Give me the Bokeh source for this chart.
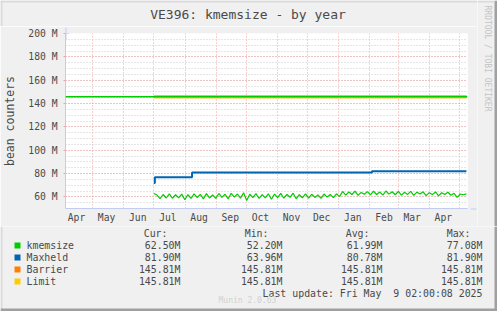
import pandas as pd
from bokeh.plotting import figure
from bokeh.layouts import column, row
from bokeh.models import FixedTicker, Range1d, Arrow, NormalHead, Span
from bokeh.core.properties import value
from bokeh.embed import file_html
from bokeh.resources import INLINE

FONT = "DejaVu Sans Mono"
TXT = "#4a4a4a"
AXC = "#c3cbf3"
BG = "#f0f0f0"
DARK = "#a0a0a0"
LIGHT = "#dadada"

title_text = "VE396: kmemsize - by year"
y_label = "bean counters"

x_start = "2024-04-04 02:00"
x_end = "2025-05-09 02:00"

month_labels = ["Apr", "May", "Jun", "Jul", "Aug", "Sep", "Oct", "Nov", "Dec", "Jan", "Feb", "Mar", "Apr"]
month_label_dates = ["2024-04-15", "2024-05-15", "2024-06-15", "2024-07-15", "2024-08-15", "2024-09-15",
                     "2024-10-15", "2024-11-15", "2024-12-15", "2025-01-15", "2025-02-15", "2025-03-15",
                     "2025-04-15"]
month_grid_dates = ["2024-05-01", "2024-06-01", "2024-07-01", "2024-08-01", "2024-09-01", "2024-10-01",
                    "2024-11-01", "2024-12-01", "2025-01-01", "2025-02-01", "2025-03-01", "2025-04-01",
                    "2025-05-01"]

y_ticks = [60, 80, 100, 120, 140, 160, 180, 200]
y_tick_labels = ["60 M", "80 M", "100 M", "120 M", "140 M", "160 M", "180 M", "200 M"]
y_minor_ticks = [50, 55, 60, 65, 70, 75, 80, 85, 90, 95, 100, 105, 110, 115, 120, 125, 130, 135, 140,
                 145, 150, 155, 160, 165, 170, 175, 180, 185, 190, 195, 200]

# kmemsize (M), sampled evenly from start to end
kmemsize_start = "2024-07-01"
kmemsize_end = "2025-05-08"
kmemsize_values = [
    62.8, 61.5, 58.5, 62.0, 59.0, 62.5, 58.8, 61.8, 59.2, 62.3,
    57.5, 61.9, 58.6, 62.6, 59.4, 62.1, 58.3, 62.7, 59.0, 61.6,
    58.7, 62.9, 59.5, 62.2, 58.2, 63.0, 59.8, 62.4, 58.9, 63.5,
    56.8, 62.2, 59.3, 62.8, 58.6, 61.9, 59.1, 62.6, 57.9, 62.3,
    59.4, 62.9, 58.8, 62.0, 59.6, 63.1, 58.4, 61.8, 59.2, 62.5,
    58.9, 62.2, 59.5, 61.7, 58.6, 62.4, 59.8, 62.0, 59.3, 62.6,
    60.2, 64.6, 61.5, 64.2, 62.0, 64.9, 61.3, 63.8, 62.2, 64.5,
    61.6, 64.8, 62.0, 64.1, 61.4, 65.0, 62.3, 64.4, 61.8,
    64.6, 61.5, 63.9, 62.1, 64.7, 61.2, 64.0, 62.4, 64.3, 61.0,
    63.6, 61.9, 64.2, 60.8, 63.5, 62.0, 63.9, 61.4, 63.0, 59.6,
    62.4, 61.8, 62.5,
]

maxheld_dates = ["2024-07-01", "2024-07-02", "2024-08-08", "2025-02-03", "2025-05-08"]
maxheld_values = [71.8, 76.8, 80.9, 81.9, 81.9]

limit_dates = ["2024-07-01", "2025-05-08"]
barrier_values = [145.81, 145.81]
limit_values = [145.81, 145.81]
threshold_value = 145.81

legend_names = ["kmemsize", "Maxheld", "Barrier", "Limit"]
legend_colors = ["#00cc00", "#0066b3", "#ff8000", "#ffcc00"]
legend_headers = ["Cur:", "Min:", "Avg:", "Max:"]
cur_values = ["62.50M", "81.90M", "145.81M", "145.81M"]
min_values = ["52.20M", "63.96M", "145.81M", "145.81M"]
avg_values = ["61.99M", "80.78M", "145.81M", "145.81M"]
max_values = ["77.08M", "81.90M", "145.81M", "145.81M"]
last_update = "Last update: Fri May\u00a0 9 02:00:08 2025"
munin_version = "Munin 2.0.63"
watermark = "RRDTOOL / TOBI OETIKER"

EPOCH = pd.Timestamp("1970-01-01")

# ---- layout geometry (canvas pixels) ----
W, H = 497, 311
TITLE_H = 26           # title strip height
TOP_H = 226            # bottom edge of the chart area
P_W = 477              # width of chart figure; the rest is the watermark strip
FL, FR, FT, FB = 65, 467, 33, 208   # chart frame edges (canvas px)


def days(s):
    return (pd.Timestamp(s) - EPOCH) / pd.Timedelta(days=1)


def blank_fig(w, h):
    f = figure(width=w, height=h, output_backend="svg", toolbar_location=None,
               x_range=Range1d(0, w), y_range=Range1d(h, 0), min_border=0,
               x_axis_location=None, y_axis_location=None)
    f.grid.visible = False
    f.outline_line_color = None
    f.background_fill_color = BG
    f.border_fill_color = BG
    f.frame_align = False
    return f


k_dates = pd.date_range(kmemsize_start, kmemsize_end, periods=len(kmemsize_values))
k_x = [(d - EPOCH) / pd.Timedelta(days=1) for d in k_dates]

# title strip
t = blank_fig(P_W, TITLE_H)
t.text(x=[247.5], y=[13.5], text=[title_text], text_font=value(FONT), text_font_size="13px",
       text_align="center", text_baseline="middle", text_color=TXT)
t.quad(left=[0, 0], right=[P_W, 2], top=[0, 0], bottom=[2, TITLE_H], fill_color=LIGHT, line_color=None)

P_H = TOP_H - TITLE_H
p = figure(width=P_W, height=P_H, output_backend="svg", toolbar_location=None,
           x_range=Range1d(days(x_start), days(x_end)), y_range=Range1d(50, 200),
           min_border_left=FL, min_border_right=P_W - FR, min_border_top=FT - TITLE_H,
           min_border_bottom=TOP_H - FB)
p.background_fill_color = "white"
p.border_fill_color = BG
p.outline_line_color = None

# x axis
label_ticks = [int(days(d)) for d in month_label_dates]
p.xaxis.ticker = FixedTicker(ticks=label_ticks)
p.xaxis.major_label_overrides = {tk: m for tk, m in zip(label_ticks, month_labels)}
p.xaxis.major_tick_line_color = None
p.xaxis.minor_tick_line_color = None
p.xaxis.major_tick_out = 0
p.xaxis.major_tick_in = 0
p.xaxis.major_label_standoff = 3
p.xaxis.axis_line_color = AXC
p.xaxis.major_label_text_font = FONT
p.xaxis.major_label_text_font_size = "9.7px"
p.xaxis.major_label_text_color = TXT

p.xgrid.ticker = FixedTicker(ticks=[days(d) for d in month_grid_dates])
p.xgrid.grid_line_color = "#f0a0a0"
p.xgrid.grid_line_dash = "1 2"

# y axis
p.yaxis.ticker = FixedTicker(ticks=y_ticks, minor_ticks=y_minor_ticks)
p.yaxis.major_label_overrides = {tk: s for tk, s in zip(y_ticks, y_tick_labels)}
p.yaxis.minor_tick_line_color = None
p.yaxis.major_tick_out = 2
p.yaxis.major_tick_in = 0
p.yaxis.major_tick_line_color = "#f0a0a0"
p.yaxis.major_label_standoff = 4
p.yaxis.axis_line_color = AXC
p.yaxis.major_label_text_font = FONT
p.yaxis.major_label_text_font_size = "9.7px"
p.yaxis.major_label_text_color = TXT
p.yaxis.axis_label = y_label
p.yaxis.axis_label_text_font = FONT
p.yaxis.axis_label_text_font_size = "11.5px"
p.yaxis.axis_label_text_font_style = "normal"
p.yaxis.axis_label_text_color = TXT
p.yaxis.axis_label_standoff = 8

p.ygrid.grid_line_color = "#f0a0a0"
p.ygrid.grid_line_dash = "1 2"
p.ygrid.minor_grid_line_color = "#cccccc"
p.ygrid.minor_grid_line_dash = "1 2"

# data
p.line([days(d) for d in limit_dates], barrier_values, line_color=legend_colors[2], line_width=3)
p.line([days(d) for d in limit_dates], limit_values, line_color=legend_colors[3], line_width=3)
p.add_layout(Span(location=threshold_value, dimension="width", line_color="#00cc00", line_width=1.5))
p.step([days(d) for d in maxheld_dates], maxheld_values, mode="after", line_color=legend_colors[1], line_width=2)
p.line(k_x, kmemsize_values, line_color=legend_colors[0], line_width=1.2)

# axis arrows (screen units: from frame left / frame bottom)
p.add_layout(Arrow(end=NormalHead(size=6, fill_color=AXC, line_color=AXC), x_start=0.5, y_start=FB - 40,
                   x_end=0.5, y_end=FB - 27, start_units="screen", end_units="screen", line_color=AXC))
p.add_layout(Arrow(end=NormalHead(size=6, fill_color=AXC, line_color=AXC), x_start=460 - FL, y_start=-0.5,
                   x_end=476 - FL, y_end=-0.5, start_units="screen", end_units="screen", line_color=AXC))

# watermark strip on the right of the chart
r = blank_fig(W - P_W, TOP_H)
r.text(x=[487 - P_W], y=[58], text=[watermark], text_font=value(FONT), text_font_size="8px",
       text_align="center", text_baseline="middle", text_color="#c4c4c4", angle=-1.5707963)
r.quad(left=[W - 3 - P_W, 0], right=[W - P_W, W - 3 - P_W], top=[0, 0], bottom=[TOP_H, 2],
       fill_color=[DARK, LIGHT], line_color=None)

# legend block below
LH = H - TOP_H
q = blank_fig(W, LH)


def ly(y):
    return y - TOP_H


header_right = [167, 268, 369, 470]
col_right = [180, 282, 382, 482]
rows_y = [245, 257, 269, 281]
LFS = "9.9px"

q.text(x=header_right, y=[ly(233)] * 4, text=legend_headers, text_font=value(FONT), text_font_size=LFS,
       text_align="right", text_baseline="middle", text_color=TXT)
q.quad(left=[14] * 4, right=[20] * 4, top=[ly(y) - 3 for y in rows_y], bottom=[ly(y) + 3 for y in rows_y],
       fill_color=legend_colors, line_color=None)
q.text(x=[26] * 4, y=[ly(y) for y in rows_y], text=legend_names, text_font=value(FONT), text_font_size=LFS,
       text_align="left", text_baseline="middle", text_color=TXT)
for cx, col in zip(col_right, [cur_values, min_values, avg_values, max_values]):
    q.text(x=[cx] * 4, y=[ly(y) for y in rows_y], text=col, text_font=value(FONT), text_font_size=LFS,
           text_align="right", text_baseline="middle", text_color=TXT)
q.text(x=[482], y=[ly(293)], text=[last_update], text_font=value(FONT), text_font_size=LFS,
       text_align="right", text_baseline="middle", text_color=TXT)
q.text(x=[218], y=[ly(300)], text=[munin_version], text_font=value(FONT), text_font_size="8px",
       text_align="left", text_baseline="middle", text_color="#d0d0d0")
# image frame edges
q.quad(left=[0, 0, W - 3], right=[2, W, W], top=[0, LH - 3, 0], bottom=[LH, LH, LH],
       fill_color=[LIGHT, DARK, DARK], line_color=None)

layout = column(row(column(t, p), r), q)
open("out.html", "w").write(file_html(layout, INLINE))
